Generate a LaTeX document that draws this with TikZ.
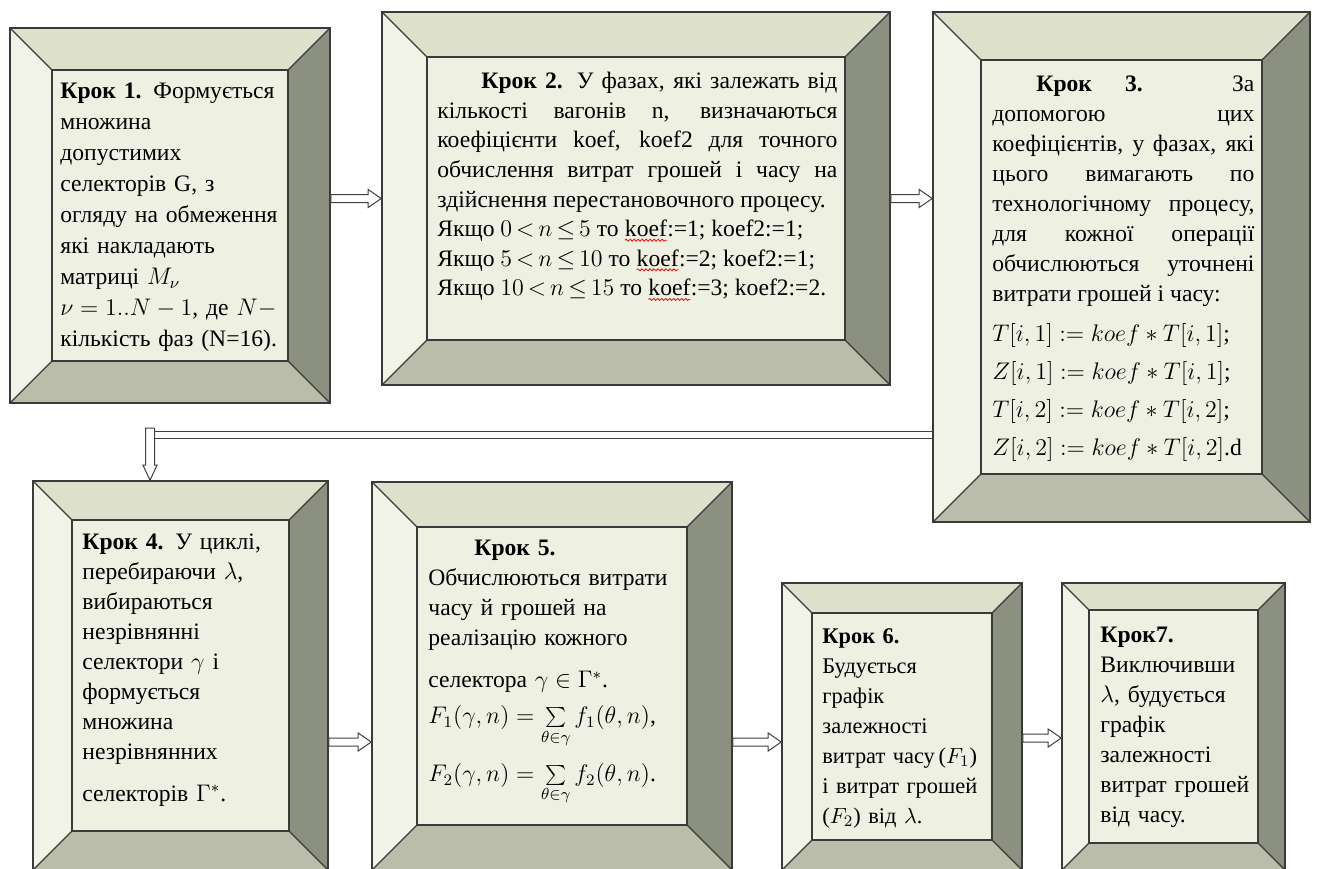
\documentclass[tikz,border=0pt]{standalone}
\usepackage{fontspec}
\setmainfont{Liberation Serif}
\usetikzlibrary{calc,fit,decorations.pathmorphing}
\setlength{\parindent}{0pt}

\definecolor{bevtop}{HTML}{DDE1CC}
\definecolor{bevleft}{HTML}{F1F3E6}
\definecolor{bevright}{HTML}{8B9081}
\definecolor{bevbot}{HTML}{B9BDA9}
\definecolor{panel}{HTML}{EEF1E2}
\definecolor{rim}{HTML}{3A3A3A}

\newcommand{\spell}[1]{\tikz[baseline=(sp.base)]{\node[inner sep=0pt, outer sep=0pt] (sp) {#1};
  \draw[red, line width=0.4pt, decorate, decoration={snake, amplitude=0.5pt, segment length=2pt}]
    ([yshift=-1.6pt]sp.south west) -- ([yshift=-1.6pt]sp.south east);}}

\tikzset{
  krok/.style={draw=rim, line width=0.8pt, inner sep=0pt},
  txt/.style={anchor=north west, inner sep=0pt, align=left, font=\fontsize{11.8}{15}\selectfont},
  jtxt/.style={txt, align=justify},
  feed/.style={draw=black!75, line width=0.5pt, double=white, double distance=3pt},
  blockright/.style={draw=black!75, fill=white, line width=0.5pt,
    to path={let \p1=(\tikztostart), \p2=(\tikztotarget) in
      (\x1,\y1+2pt) -- (\x2-6.5pt,\y1+2pt) -- (\x2-6.5pt,\y1+4.5pt) -- (\x2,\y1)
      -- (\x2-6.5pt,\y1-4.5pt) -- (\x2-6.5pt,\y1-2pt) -- (\x1,\y1-2pt) -- cycle}},
  blockdown/.style={draw=black!75, fill=white, line width=0.5pt,
    to path={let \p1=(\tikztostart), \p2=(\tikztotarget) in
      (\x1-2.25pt,\y1+3.5pt) -- (\x1-2.25pt,\y2+7.5pt) -- (\x1-3.5pt,\y2+7.5pt) -- (\x1,\y2)
      -- (\x1+3.5pt,\y2+7.5pt) -- (\x1+2.25pt,\y2+7.5pt) -- (\x1+2.25pt,\y1+3.5pt) -- cycle}},
}

\begin{document}
\begin{tikzpicture}[x=0.5pt, y=-0.5pt]
  \useasboundingbox (0,0) rectangle (1317,868);
  \clip (0,0) rectangle (1317,868);

  % bevelled frames
  \foreach \i/\xa/\ya/\xb/\yb/\b in {1/10/28/330/403/42, 2/382/12/890/385/45,
      3/933/12/1310/522/48, 4/33/481/328/870/39, 5/372/482/732/870/45,
      6/782/583/1022/870/30, 7/1062/583/1285/870/27} {
    \fill[bevtop] (\xa,\ya) -- (\xb,\ya) -- (\xb-\b,\ya+\b) -- (\xa+\b,\ya+\b) -- cycle;
    \fill[bevleft] (\xa,\ya) -- (\xa+\b,\ya+\b) -- (\xa+\b,\yb-\b) -- (\xa,\yb) -- cycle;
    \fill[bevright] (\xb,\ya) -- (\xb,\yb) -- (\xb-\b,\yb-\b) -- (\xb-\b,\ya+\b) -- cycle;
    \fill[bevbot] (\xa,\yb) -- (\xb,\yb) -- (\xb-\b,\yb-\b) -- (\xa+\b,\yb-\b) -- cycle;
    \filldraw[fill=panel, draw=rim, line width=0.8pt] (\xa+\b,\ya+\b) rectangle (\xb-\b,\yb-\b);
    \draw[rim, line width=0.6pt] (\xa,\ya) -- (\xa+\b,\ya+\b) (\xb,\ya) -- (\xb-\b,\ya+\b)
      (\xa,\yb) -- (\xa+\b,\yb-\b) (\xb,\yb) -- (\xb-\b,\yb-\b);
    \node[krok, fit={(\xa,\ya) (\xb,\yb)}] (k\i) {};
  }

  \node[txt, text width=118pt, font=\fontsize{11.8}{15.5}\selectfont] (t1) at (60,83) {\textbf{Крок 1.} Формується\\
    множина\\ допустимих\\ селекторів G, з\\ огляду на обмеження\\
    які накладають\\ матриці $M_\nu$\\ $\nu=1..N-1$, де $N-$\\ кількість фаз (N=16).};

  \node[jtxt, text width=200pt, font=\fontsize{11.8}{14.8}\selectfont] (t2) at (437,72) {\hspace*{22pt}\textbf{Крок 2.} У фазах, які залежать від\linebreak
    кількості вагонів n, визначаються\linebreak
    коефіцієнти koef, koef2 для точного\linebreak
    обчислення витрат грошей і часу на\linebreak
    здійснення перестановочного процесу.\\
    Якщо $0\,{<}\,n\,{\le}\,5$ то \spell{koef}:=1; koef2:=1;\\
    Якщо $5\,{<}\,n\,{\le}\,10$ то \spell{koef}:=2; koef2:=1;\\
    Якщо $10\,{<}\,n\,{\le}\,15$ то \spell{koef}:=3; koef2:=2.};

  \node[jtxt, text width=131pt] (t3) at (992,75) {\hspace*{22pt}\textbf{Крок 3.} За\linebreak
    допомогою цих\linebreak
    коефіцієнтів, у фазах, які\linebreak
    цього вимагають по\linebreak
    технологічному процесу,\linebreak
    для кожної операції\linebreak
    обчислюються уточнені\linebreak
    витрати грошей і часу:\\[5pt]
    $T[i,1] := koef*T[i,1]$;\\[4pt]
    $Z[i,1] := koef*T[i,1]$;\\[4pt]
    $T[i,2] := koef*T[i,2]$;\\[4pt]
    $Z[i,2] := koef*T[i,2]$.d};

  \node[txt, text width=110pt] (t4) at (82,533) {\textbf{Крок 4.} У циклі,\\
    перебираючи $\lambda$,\\ вибираються\\ незрівнянні\\ селектори $\gamma$ і\\
    формується\\ множина\\ незрівнянних\\[6pt] селекторів $\Gamma^{*}$.};

  \node[txt, text width=130pt] (t5) at (428,540) {\hspace*{23pt}\textbf{Крок 5.}\\
    Обчислюються витрати\\ часу й грошей на\\ реалізацію кожного\\[6pt]
    селектора $\gamma\in\Gamma^{*}$.\\[3pt]
    $F_1(\gamma,n)=\sum\limits_{\theta\in\gamma} f_1(\theta,n)$,\\[7pt]
    $F_2(\gamma,n)=\sum\limits_{\theta\in\gamma} f_2(\theta,n)$.};

  \node[txt, text width=88pt, font=\fontsize{11.2}{15}\selectfont] (t6) at (822,628) {\textbf{Крок 6.}\\ Будується\\ графік\\
    залежності\\ витрат часу\,($F_1$)\\ і витрат грошей\\ ($F_2$) від $\lambda$.};

  \node[txt, text width=82pt] (t7) at (1100,627) {\textbf{Крок7.}\\ Виключивши\\
    $\lambda$, будується\\ графік\\ залежності\\ витрат грошей\\ від часу.};

  % connectors
  \draw[blockright] (k1.east |- k2.west) to (k2.west);
  \draw[blockright] (k2.east) to (k3.west |- k2.east);
  \coordinate (turn) at (150,435);
  \draw[feed] (k3.west |- turn) -- (turn);
  \draw[blockdown] (turn) to (turn |- k4.north);
  \draw[blockright] (k4.east |- 0,742) to (k5.west |- 0,742);
  \draw[blockright] (k5.east |- 0,742) to (k6.west |- 0,742);
  \draw[blockright] (k6.east |- 0,738) to (k7.west |- 0,738);
\end{tikzpicture}
\end{document}
